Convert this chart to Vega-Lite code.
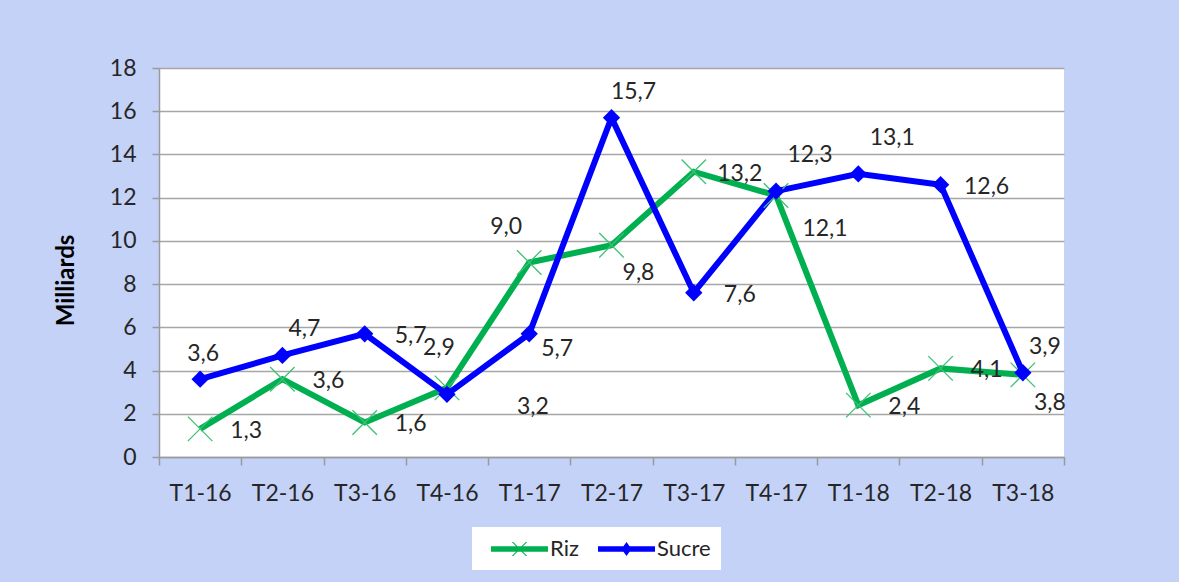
{
  "$schema": "https://vega.github.io/schema/vega-lite/v6.json",
  "autosize": "none",
  "width": 905,
  "height": 389,
  "padding": {"left": 159, "top": 68, "right": 115, "bottom": 125},
  "background": "#c4d2f8",
  "config": {
    "font": "Lato",
    "locale": {"number": {"decimal": ",", "thousands": " ", "grouping": [3], "currency": ["", " €"]}},
    "view": {"stroke": null, "fill": "white"}
  },
  "data": {
    "values": [
      {"periode": "T1-16", "serie": "Riz", "valeur": 1.3},
      {"periode": "T2-16", "serie": "Riz", "valeur": 3.6},
      {"periode": "T3-16", "serie": "Riz", "valeur": 1.6},
      {"periode": "T4-16", "serie": "Riz", "valeur": 3.2},
      {"periode": "T1-17", "serie": "Riz", "valeur": 9.0},
      {"periode": "T2-17", "serie": "Riz", "valeur": 9.8},
      {"periode": "T3-17", "serie": "Riz", "valeur": 13.2},
      {"periode": "T4-17", "serie": "Riz", "valeur": 12.1},
      {"periode": "T1-18", "serie": "Riz", "valeur": 2.4},
      {"periode": "T2-18", "serie": "Riz", "valeur": 4.1},
      {"periode": "T3-18", "serie": "Riz", "valeur": 3.8},
      {"periode": "T1-16", "serie": "Sucre", "valeur": 3.6},
      {"periode": "T2-16", "serie": "Sucre", "valeur": 4.7},
      {"periode": "T3-16", "serie": "Sucre", "valeur": 5.7},
      {"periode": "T4-16", "serie": "Sucre", "valeur": 2.9},
      {"periode": "T1-17", "serie": "Sucre", "valeur": 5.7},
      {"periode": "T2-17", "serie": "Sucre", "valeur": 15.7},
      {"periode": "T3-17", "serie": "Sucre", "valeur": 7.6},
      {"periode": "T4-17", "serie": "Sucre", "valeur": 12.3},
      {"periode": "T1-18", "serie": "Sucre", "valeur": 13.1},
      {"periode": "T2-18", "serie": "Sucre", "valeur": 12.6},
      {"periode": "T3-18", "serie": "Sucre", "valeur": 3.9}
    ]
  },
  "encoding": {
    "x": {
      "field": "periode", "type": "nominal",
      "sort": ["T1-16","T2-16","T3-16","T4-16","T1-17","T2-17","T3-17","T4-17","T1-18","T2-18","T3-18"],
      "scale": {"type": "band", "paddingInner": 0, "paddingOuter": 0},
      "axis": {
        "title": null, "labelAngle": 0, "tickBand": "extent", "grid": false,
        "domainColor": "#9a9a9a", "domainWidth": 1.5, "tickColor": "#9a9a9a", "tickWidth": 1.5, "tickSize": 8,
        "labelFont": "Lato", "labelFontSize": 23, "labelColor": "#262626", "labelPadding": 17
      }
    },
    "y": {
      "field": "valeur", "type": "quantitative",
      "scale": {"domain": [0, 18], "nice": false},
      "axis": {
        "values": [0,2,4,6,8,10,12,14,16,18], "format": "d",
        "title": "Milliards", "titleFont": "Lato", "titleFontSize": 24, "titleFontWeight": "bold", "titleColor": "#000000",
        "titleX": -93, "titleY": 212, "titleAngle": -90, "titleBaseline": "middle", "titleAlign": "center",
        "grid": true, "gridColor": "#a6a6a6", "gridWidth": 1.5,
        "domainColor": "#9a9a9a", "domainWidth": 1.5, "tickColor": "#9a9a9a", "tickWidth": 1.5, "tickSize": 7,
        "labelFont": "Lato", "labelFontSize": 23, "labelColor": "#262626", "labelPadding": 16
      }
    }
  },
  "layer": [
    {
      "mark": {"type": "line", "strokeWidth": 6, "strokeJoin": "miter"},
      "encoding": {
        "color": {
          "field": "serie", "type": "nominal",
          "scale": {"domain": ["Riz", "Sucre"], "range": ["#00b050", "#0000ff"]},
          "legend": {
            "title": null, "orient": "none", "legendX": 313, "legendY": 459, "direction": "horizontal",
            "fillColor": "white", "padding": 10, "labelFont": "Lato", "labelFontSize": 22, "labelColor": "#262626",
            "symbolSize": 576, "labelOffset": 44, "columnPadding": 10,
            "encode": {
              "symbols": {
                "update": {
                  "shape": {"signal": "datum.value === 'Riz' ? 'M-0.25,-0.23L4.5,-0.23L4.5,0.23L-0.25,0.23ZM1.485,-0.58L1.605,-0.58L2.765,0.58L2.645,0.58ZM2.645,-0.58L2.765,-0.58L1.605,0.58L1.485,0.58Z' : 'M-0.25,-0.23L4.5,-0.23L4.5,0.23L-0.25,0.23ZM2.125,-0.58L2.545,0L2.125,0.58L1.705,0Z'"},
                  "fill": {"signal": "datum.value === 'Riz' ? '#00b050' : '#0000ff'"},
                  "fillOpacity": {"value": 1},
                  "stroke": {"value": "transparent"},
                  "strokeWidth": {"value": 0}
                }
              }
            }
          }
        }
      }
    },
    {
      "transform": [{"filter": "datum.serie === 'Riz'"}],
      "mark": {"type": "point", "shape": "M-1,-1L1,1M1,-1L-1,1", "filled": false, "stroke": "#3cc274", "strokeWidth": 1.3, "size": 600, "opacity": 1},
      "encoding": {}
    },
    {
      "transform": [{"filter": "datum.serie === 'Sucre'"}],
      "mark": {"type": "point", "shape": "diamond", "filled": true, "color": "#0000ff", "size": 300, "opacity": 1},
      "encoding": {}
    },
    {
      "transform": [{"filter": "indexof(['Riz T1-16','Riz T2-16','Riz T3-16','Riz T3-17','Riz T1-18','Riz T2-18','Sucre T3-16','Sucre T3-17','Sucre T2-18'], datum.serie + ' ' + datum.periode) >= 0"}],
      "mark": {"type": "text", "dx": 46, "dy": 2, "fontSize": 23, "font": "Lato", "color": "#262626", "align": "center", "baseline": "middle"},
      "encoding": {"text": {"field": "valeur", "type": "quantitative", "format": ".1f"}}
    },
    {
      "transform": [{"filter": "indexof(['Riz T2-17','Riz T3-18'], datum.serie + ' ' + datum.periode) >= 0"}],
      "mark": {"type": "text", "dx": 27, "dy": 28, "fontSize": 23, "font": "Lato", "color": "#262626", "align": "center", "baseline": "middle"},
      "encoding": {"text": {"field": "valeur", "type": "quantitative", "format": ".1f"}}
    },
    {
      "transform": [{"filter": "indexof(['Sucre T1-17'], datum.serie + ' ' + datum.periode) >= 0"}],
      "mark": {"type": "text", "dx": 28, "dy": 15, "fontSize": 23, "font": "Lato", "color": "#262626", "align": "center", "baseline": "middle"},
      "encoding": {"text": {"field": "valeur", "type": "quantitative", "format": ".1f"}}
    },
    {
      "transform": [{"filter": "indexof(['Sucre T2-16','Sucre T2-17','Sucre T3-18'], datum.serie + ' ' + datum.periode) >= 0"}],
      "mark": {"type": "text", "dx": 22, "dy": -26, "fontSize": 23, "font": "Lato", "color": "#262626", "align": "center", "baseline": "middle"},
      "encoding": {"text": {"field": "valeur", "type": "quantitative", "format": ".1f"}}
    },
    {
      "transform": [{"filter": "indexof(['Sucre T1-16'], datum.serie + ' ' + datum.periode) >= 0"}],
      "mark": {"type": "text", "dx": 3, "dy": -25, "fontSize": 23, "font": "Lato", "color": "#262626", "align": "center", "baseline": "middle"},
      "encoding": {"text": {"field": "valeur", "type": "quantitative", "format": ".1f"}}
    },
    {
      "transform": [{"filter": "indexof(['Sucre T4-17','Sucre T1-18'], datum.serie + ' ' + datum.periode) >= 0"}],
      "mark": {"type": "text", "dx": 34, "dy": -36, "fontSize": 23, "font": "Lato", "color": "#262626", "align": "center", "baseline": "middle"},
      "encoding": {"text": {"field": "valeur", "type": "quantitative", "format": ".1f"}}
    },
    {
      "transform": [{"filter": "indexof(['Riz T1-17'], datum.serie + ' ' + datum.periode) >= 0"}],
      "mark": {"type": "text", "dx": -23, "dy": -36, "fontSize": 23, "font": "Lato", "color": "#262626", "align": "center", "baseline": "middle"},
      "encoding": {"text": {"field": "valeur", "type": "quantitative", "format": ".1f"}}
    },
    {
      "transform": [{"filter": "indexof(['Sucre T4-16'], datum.serie + ' ' + datum.periode) >= 0"}],
      "mark": {"type": "text", "dx": -8, "dy": -46, "fontSize": 23, "font": "Lato", "color": "#262626", "align": "center", "baseline": "middle"},
      "encoding": {"text": {"field": "valeur", "type": "quantitative", "format": ".1f"}}
    },
    {
      "transform": [{"filter": "indexof(['Riz T4-16'], datum.serie + ' ' + datum.periode) >= 0"}],
      "mark": {"type": "text", "dx": 86, "dy": 19, "fontSize": 23, "font": "Lato", "color": "#262626", "align": "center", "baseline": "middle"},
      "encoding": {"text": {"field": "valeur", "type": "quantitative", "format": ".1f"}}
    },
    {
      "transform": [{"filter": "indexof(['Riz T4-17'], datum.serie + ' ' + datum.periode) >= 0"}],
      "mark": {"type": "text", "dx": 49, "dy": 33, "fontSize": 23, "font": "Lato", "color": "#262626", "align": "center", "baseline": "middle"},
      "encoding": {"text": {"field": "valeur", "type": "quantitative", "format": ".1f"}}
    }
  ]
}
